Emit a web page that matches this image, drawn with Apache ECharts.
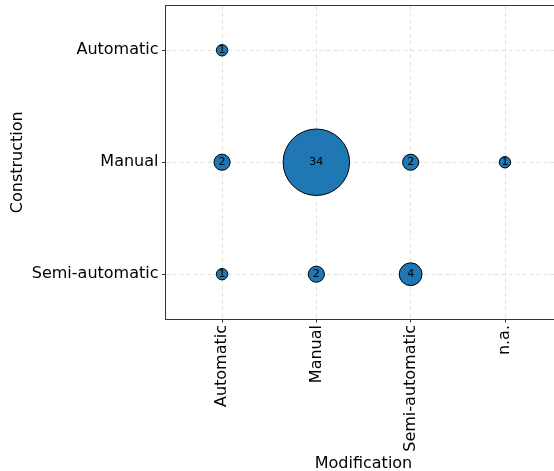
<!DOCTYPE html>
<html><head><meta charset="utf-8">
<script src="https://cdn.jsdelivr.net/npm/echarts@6/dist/echarts.min.js"></script>
<style>html,body{margin:0;padding:0;background:#fff}#c{width:554px;height:471px}</style>
</head><body><div id="c"></div>
<script>
var modCategories = ['Automatic', 'Manual', 'Semi-automatic', 'n.a.'];
var conCategories = ['Semi-automatic', 'Manual', 'Automatic'];
// one entry per bubble: modification, construction, count
var pointMod = ['Automatic', 'Automatic', 'Manual', 'Semi-automatic', 'n.a.', 'Automatic', 'Manual', 'Semi-automatic'];
var pointCon = ['Automatic', 'Manual', 'Manual', 'Manual', 'Manual', 'Semi-automatic', 'Semi-automatic', 'Semi-automatic'];
var counts = [1, 2, 34, 2, 1, 1, 2, 4];

var data = counts.map(function (c, i) {
  return [modCategories.indexOf(pointMod[i]), conCategories.indexOf(pointCon[i]), c];
});
var font = 'DejaVu Sans';
var chart = echarts.init(document.getElementById('c'), null, {renderer: 'canvas'});
chart.setOption({
  animation: false,
  grid: {left: 165.5, top: 5.5, width: 396, height: 313.5, show: false,
    containLabel: false, outerBoundsMode: 'none'},
  xAxis: [{
    type: 'value', min: -0.6, max: 3.6,
    name: 'Modification', nameLocation: 'middle', nameGap: 137, nameMoveOverlap: false,
    nameTextStyle: {fontFamily: font, fontSize: 16, color: '#000'},
    axisLine: {show: true, onZero: false, lineStyle: {color: '#333', width: 1}},
    axisTick: {show: true, length: 3.5, customValues: [0, 1, 2, 3], lineStyle: {color: '#333'}},
    axisLabel: {customValues: [0, 1, 2, 3], rotate: 90, margin: 6, fontFamily: font, fontSize: 16, color: '#000',
      formatter: function (v) { return modCategories[Math.round(v)]; }},
    splitLine: {show: true, lineStyle: {color: '#e0e0e0', type: [4, 3], width: 1}}
  }, {
    type: 'value', min: -0.6, max: 3.6, position: 'top',
    axisLine: {show: true, onZero: false, lineStyle: {color: '#333', width: 1}},
    axisTick: {show: false}, axisLabel: {show: false}, splitLine: {show: false}
  }],
  yAxis: {
    type: 'value', min: -0.4, max: 2.4,
    name: 'Construction', nameLocation: 'middle', nameGap: 140, nameMoveOverlap: false,
    nameTextStyle: {fontFamily: font, fontSize: 16, color: '#000'},
    axisLine: {show: true, onZero: false, lineStyle: {color: '#333', width: 1}},
    axisTick: {show: true, length: 3.5, customValues: [0, 1, 2], lineStyle: {color: '#333'}},
    axisLabel: {customValues: [0, 1, 2], margin: 7, fontFamily: font, fontSize: 16, color: '#000',
      formatter: function (v) { return conCategories[Math.round(v)]; }},
    splitLine: {show: true, lineStyle: {color: '#e0e0e0', type: [4, 3], width: 1}}
  },
  series: [{
    type: 'scatter',
    xAxisIndex: 0,
    data: data,
    symbolSize: function (d) { return 11.4 * Math.sqrt(d[2]); },
    itemStyle: {color: '#1f77b4', borderColor: '#000', borderWidth: 1, opacity: 1},
    label: {show: true, position: 'inside', color: '#000', fontFamily: font, fontSize: 11,
      formatter: function (p) { return p.data[2]; }}
  }]
});
</script></body></html>
